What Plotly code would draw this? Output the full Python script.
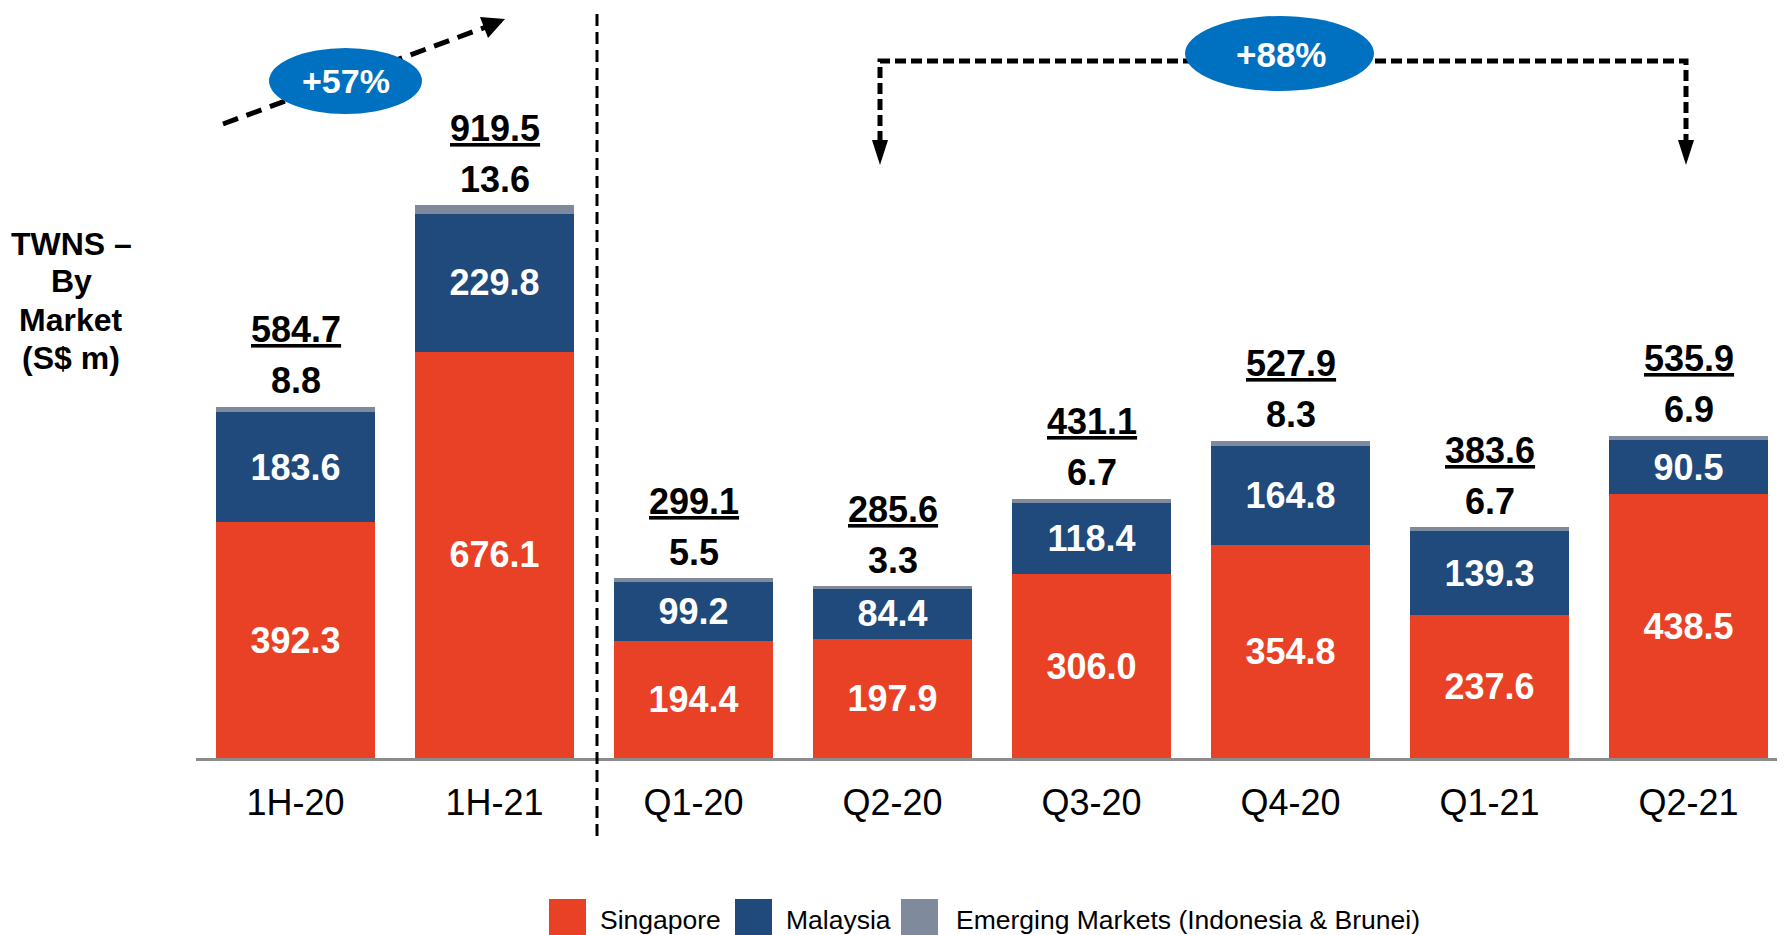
import plotly.graph_objects as go

# ---------------- data ----------------
categories = ["1H-20", "1H-21", "Q1-20", "Q2-20", "Q3-20", "Q4-20", "Q1-21", "Q2-21"]
singapore = [392.3, 676.1, 194.4, 197.9, 306.0, 354.8, 237.6, 438.5]
malaysia = [183.6, 229.8, 99.2, 84.4, 118.4, 164.8, 139.3, 90.5]
emerging = [8.8, 13.6, 5.5, 3.3, 6.7, 8.3, 6.7, 6.9]
totals = [584.7, 919.5, 299.1, 285.6, 431.1, 527.9, 383.6, 535.9]
series_names = ["Singapore", "Malaysia", "Emerging Markets (Indonesia & Brunei)"]
growth_labels = ["+57%", "+88%"]
y_title_lines = ["TWNS –", "By", "Market", "(S$ m)"]

# ---------------- style ----------------
RED = "#E94126"
NAVY = "#204A7B"
GREY = "#7F8A9C"
BLUE = "#0070C0"
FONT = "Liberation Sans, Arial, sans-serif"

OFF = 8  # page body margin
W, H = 1785, 935
L, R, T = 196 - OFF, 0, 0
PLOT_BOTTOM = 758 - OFF
B = H - PLOT_BOTTOM
PW, PH = W - L - R, PLOT_BOTTOM - T
PX_PER_UNIT = 0.601
YMAX = PH / PX_PER_UNIT
XMAX = -0.5 + PW / 199.0


def px(x):
    """screen x (reference picture) -> paper x"""
    return (x - OFF - L) / PW


def py(y):
    """screen y (reference picture) -> paper y"""
    return (PLOT_BOTTOM - (y - OFF)) / PH


fig = go.Figure()
for name, vals, col, show_text in [
    (series_names[0], singapore, RED, True),
    (series_names[1], malaysia, NAVY, True),
    (series_names[2], emerging, GREY, False),
]:
    fig.add_trace(go.Bar(
        x=categories, y=vals, name=name,
        marker=dict(color=col, line=dict(width=0)),
        text=[f"{v:.1f}" for v in vals] if show_text else None,
        textposition="inside" if show_text else "none",
        insidetextanchor="middle",
        constraintext="none",
        textfont=dict(family=FONT, size=36, color="white", weight="bold"),
        showlegend=False,
        hoverinfo="x+y+name",
    ))

annotations = []
# grey-segment values and totals above each bar
for c, e, t in zip(categories, emerging, totals):
    annotations.append(dict(
        x=c, y=t, xref="x", yref="y", text=f"{e:.1f}", showarrow=False,
        xanchor="center", yanchor="middle", yshift=26,
        font=dict(family=FONT, size=36, color="black", weight="bold"),
    ))
    annotations.append(dict(
        x=c, y=t, xref="x", yref="y", text=f"{t:.1f}", showarrow=False,
        xanchor="center", yanchor="middle", yshift=77,
        font=dict(family=FONT, size=36, color="black", weight="bold",
                  lineposition="under"),
    ))

# y title block (one annotation per line to control spacing)
for line, yy in zip(y_title_lines, [244, 281, 320, 358]):
    annotations.append(dict(
        x=px(71), y=py(yy), xref="paper", yref="paper", text=line,
        showarrow=False, xanchor="center", yanchor="middle",
        font=dict(family=FONT, size=32, color="black", weight="bold"),
    ))

shapes = []
# divider
shapes.append(dict(type="line", xref="paper", yref="paper",
                   x0=px(597), x1=px(597), y0=py(836), y1=py(9),
                   line=dict(color="black", width=3, dash="12px,6px")))

# +57% arrow
shapes.append(dict(type="line", xref="paper", yref="paper",
                   x0=px(223), y0=py(124), x1=px(486), y1=py(27),
                   line=dict(color="black", width=5, dash="16px,9px")))
tri = [(505, 19), (488, 38), (480, 17)]
shapes.append(dict(type="path", xref="paper", yref="paper",
                   path="M{},{} L{},{} L{},{} Z".format(
                       px(tri[0][0]), py(tri[0][1]), px(tri[1][0]), py(tri[1][1]),
                       px(tri[2][0]), py(tri[2][1])),
                   fillcolor="black", line=dict(width=0)))

# +88% bracket
shapes.append(dict(type="path", xref="paper", yref="paper",
                   path="M{},{} L{},{} L{},{} L{},{}".format(
                       px(880), py(142), px(880), py(61), px(1686), py(61), px(1686), py(142)),
                   line=dict(color="black", width=5, dash="11px,5px")))
for xx in (880, 1686):
    shapes.append(dict(type="path", xref="paper", yref="paper",
                       path="M{},{} L{},{} L{},{} Z".format(
                           px(xx - 8), py(140), px(xx + 8), py(140), px(xx), py(165)),
                       fillcolor="black", line=dict(width=0)))

# ellipses
shapes.append(dict(type="circle", xref="paper", yref="paper",
                   x0=px(269), x1=px(422), y0=py(114), y1=py(48),
                   fillcolor=BLUE, line=dict(width=0)))
shapes.append(dict(type="circle", xref="paper", yref="paper",
                   x0=px(1185), x1=px(1374), y0=py(91), y1=py(16),
                   fillcolor=BLUE, line=dict(width=0)))
annotations.append(dict(x=px(346), y=py(81), xref="paper", yref="paper",
                        text=growth_labels[0], showarrow=False,
                        xanchor="center", yanchor="middle",
                        font=dict(family=FONT, size=34, color="white", weight="bold")))
annotations.append(dict(x=px(1281), y=py(54), xref="paper", yref="paper",
                        text=growth_labels[1], showarrow=False,
                        xanchor="center", yanchor="middle",
                        font=dict(family=FONT, size=35, color="white", weight="bold")))

# manual legend
legend_items = [(549, 598, RED), (735, 784, NAVY), (901, 954, GREY)]
for (sx, tx, col), name in zip(legend_items, series_names):
    shapes.append(dict(type="rect", xref="paper", yref="paper",
                       x0=px(sx), x1=px(sx + 37), y0=py(940), y1=py(899),
                       fillcolor=col, line=dict(width=0)))
    annotations.append(dict(x=px(tx), y=py(920), xref="paper", yref="paper",
                            text=name, showarrow=False, xanchor="left", yanchor="middle",
                            font=dict(family=FONT, size=26.5, color="black")))

fig.update_layout(
    width=W, height=H,
    margin=dict(l=L, r=R, t=T, b=B),
    barmode="stack", bargap=0.2,
    plot_bgcolor="white", paper_bgcolor="white",
    showlegend=False,
    annotations=annotations, shapes=shapes,
    font=dict(family=FONT, color="black"),
)
fig.update_xaxes(range=[-0.5, XMAX], showline=True, linecolor="#8C8C8C", linewidth=3,
                 ticks="", showgrid=False, zeroline=False,
                 tickfont=dict(family=FONT, size=36, color="black"),
                 ticklabelstandoff=11)
fig.update_yaxes(range=[0, YMAX], visible=False, showgrid=False, zeroline=False)

fig.write_html("out.html")
